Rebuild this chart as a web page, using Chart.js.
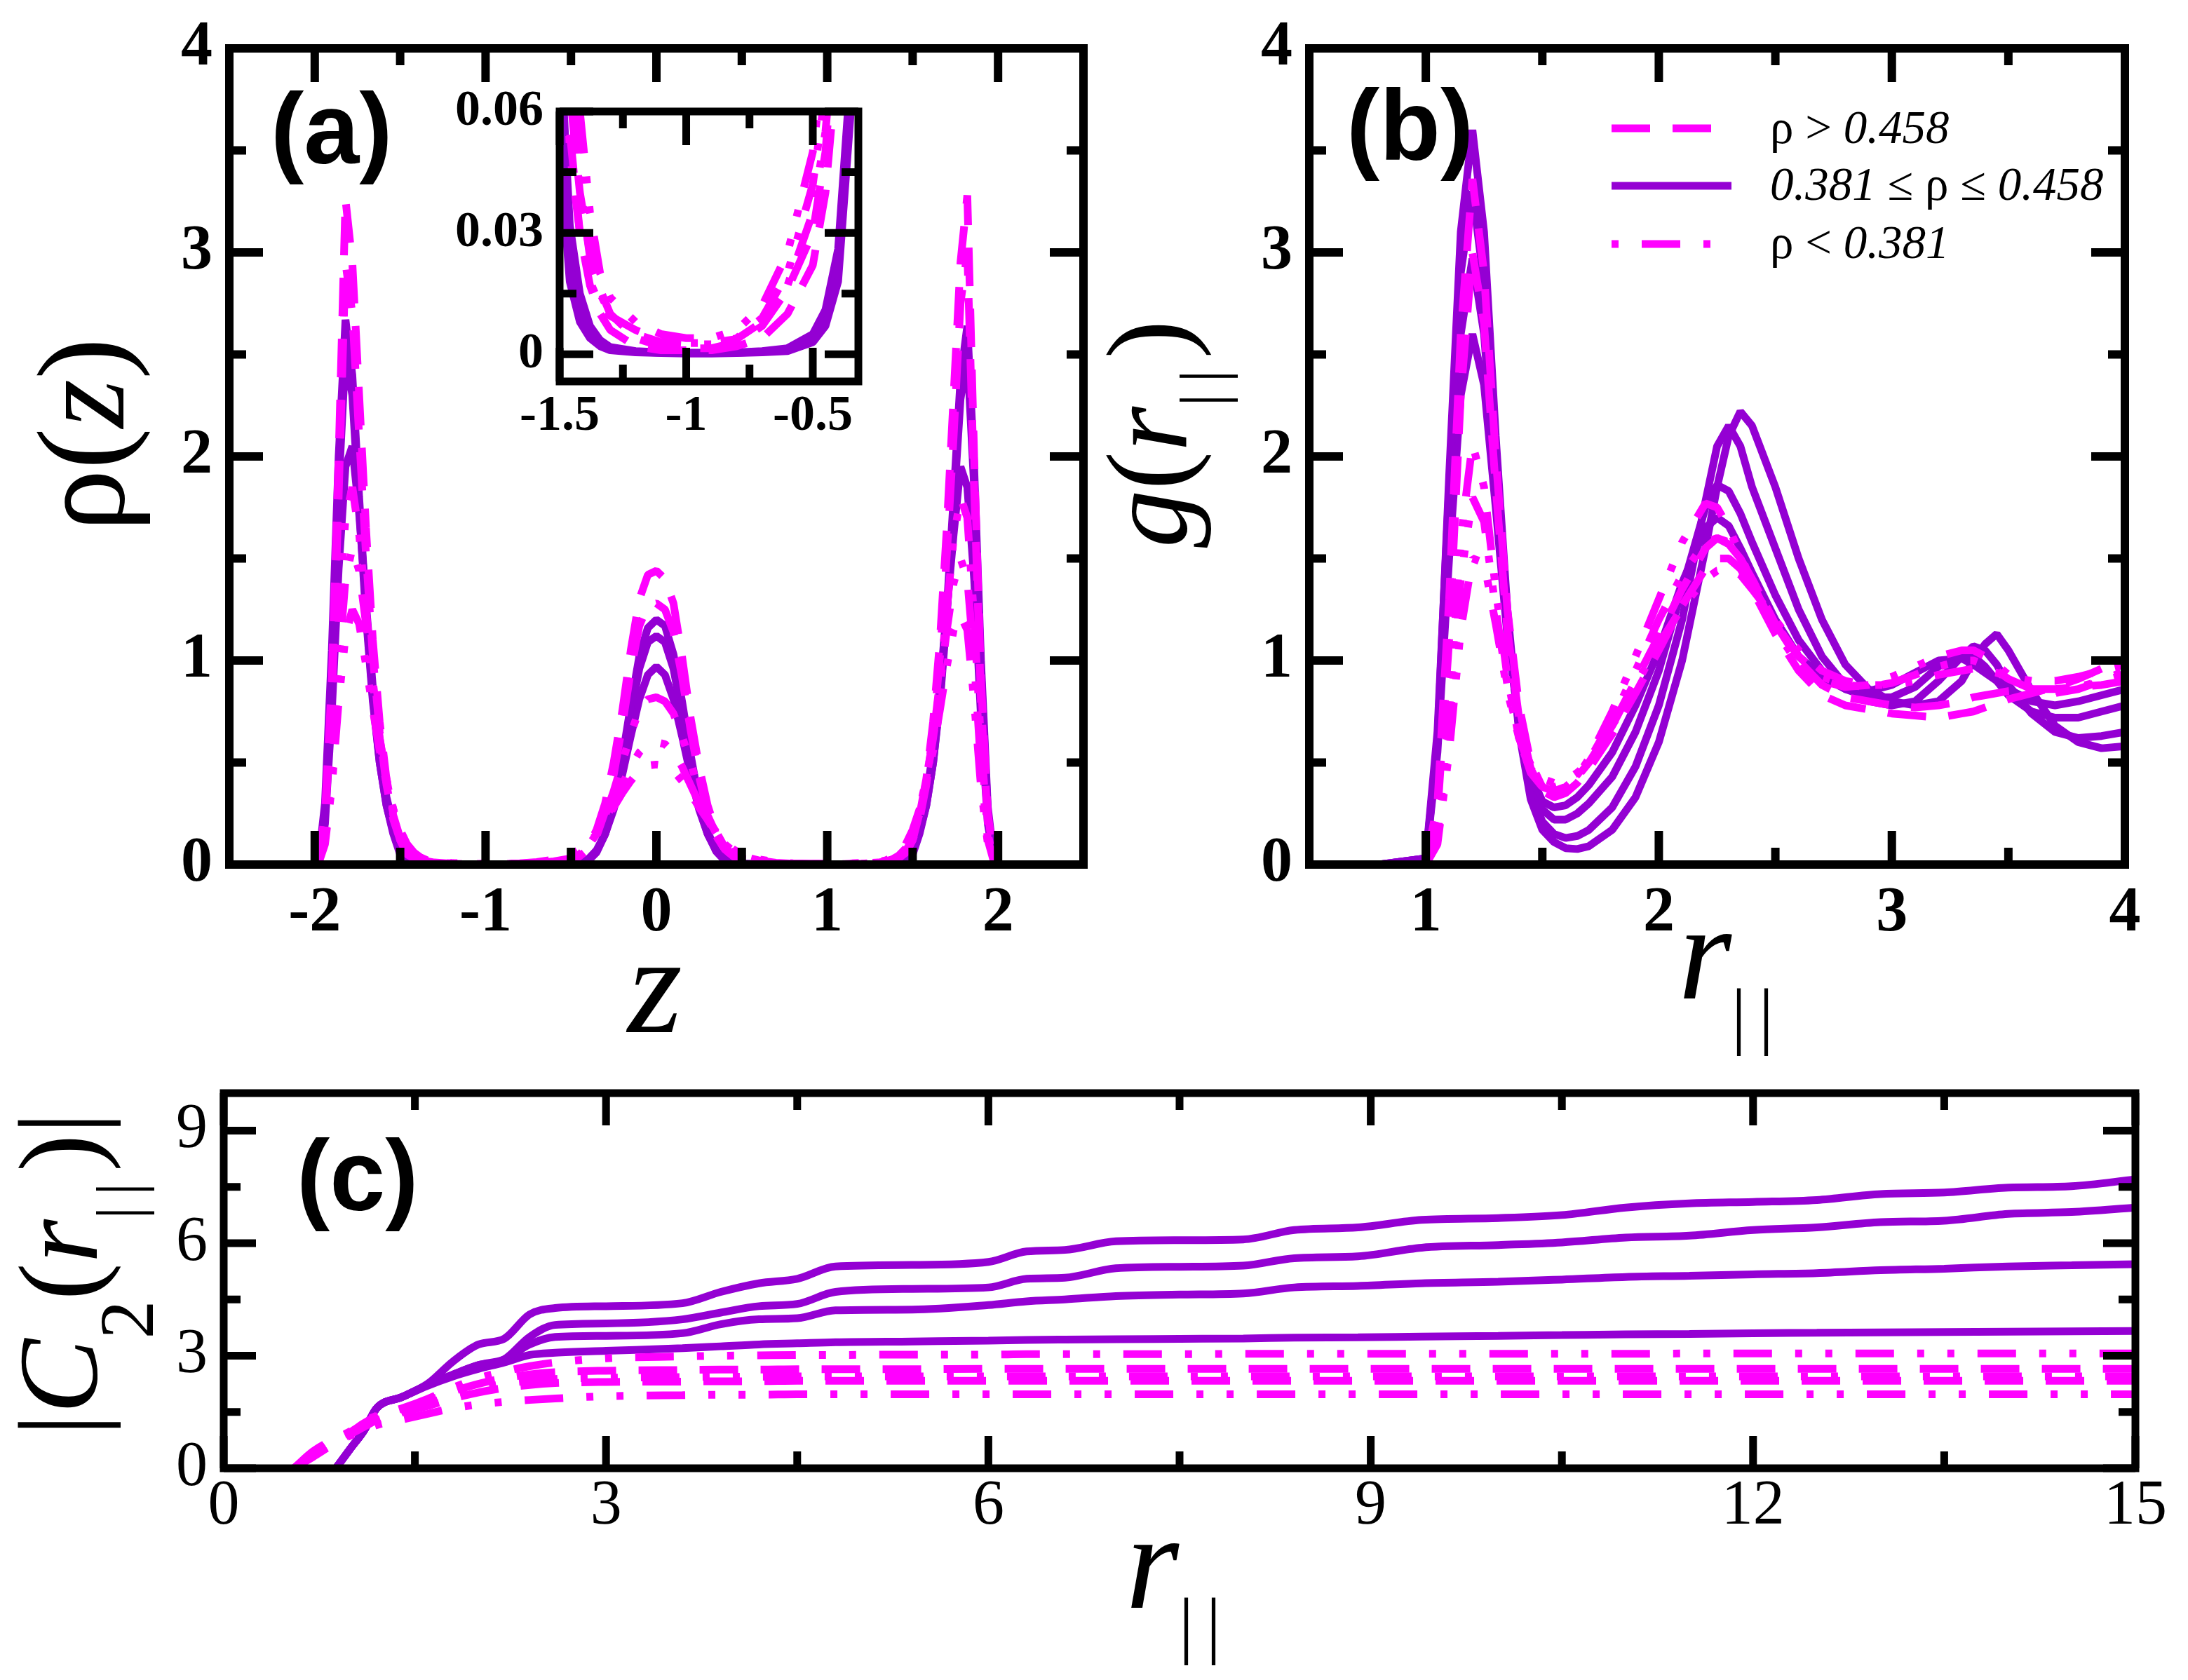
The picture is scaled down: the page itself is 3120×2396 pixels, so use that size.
<!DOCTYPE html>
<html>
<head>
<meta charset="utf-8">
<script src="https://cdn.jsdelivr.net/npm/chart.js@4.4.0/dist/chart.umd.min.js"></script>
<style>
  html, body { margin: 0; padding: 0; background: #fff; }
  body { width: 3120px; height: 2396px; position: relative; overflow: hidden; font-family: "Liberation Serif", serif; }
  canvas { position: absolute; }
  .txt { position: absolute; width: 0; height: 0; transform-origin: 0 0; }
  .txt > span { position: absolute; left: 0; top: 0; white-space: nowrap; line-height: 1; color: #000; }
  .sans { font-family: "Liberation Sans", Arial, sans-serif; font-weight: bold; }
  .sub { position: relative; line-height: 0; font-style: normal; }
  .bars { letter-spacing: 0.17em; }
</style>
</head>
<body>
<canvas id="chartA" width="1620" height="1480" style="left:0;top:0"></canvas>
<canvas id="chartB" width="1500" height="1480" style="left:1620px;top:0"></canvas>
<canvas id="chartInset" width="680" height="560" style="left:600px;top:100px"></canvas>
<canvas id="chartC" width="3120" height="916" style="left:0;top:1480px"></canvas>
<script>
  // Panel (a): density profiles rho(z)
  const zGrid = [
    -1.98, -1.94, -1.90, -1.86, -1.82, -1.78, -1.74, -1.70, -1.66, -1.62, -1.58, -1.54, -1.50, -1.46, -1.42, -1.38, -1.34, -1.30,
    -1.2, -1.1, -1.0, -0.9, -0.8, -0.7, -0.6, -0.5, -0.45, -0.4, -0.35, -0.3, -0.25, -0.2, -0.15, -0.1, -0.05, 0,
    0.05, 0.1, 0.15, 0.2, 0.25, 0.3, 0.35, 0.4, 0.45, 0.5, 0.6, 0.7, 0.8, 0.9, 1.0, 1.1, 1.2,
    1.30, 1.34, 1.38, 1.42, 1.46, 1.50, 1.54, 1.58, 1.62, 1.66, 1.70, 1.74, 1.78, 1.82, 1.86, 1.90, 1.94, 1.98
  ];
  const rhoDashHi = [
    0, 0.25, 0.9, 2.0, 3.26, 2.95, 2.3, 1.65, 1.1, 0.7, 0.42, 0.24, 0.13, 0.065, 0.04, 0.025, 0.016, 0.01,
    0.004, 0.002, 0.0015, 0.0015, 0.003, 0.007, 0.016, 0.03, 0.05, 0.09, 0.17, 0.3, 0.5, 0.75, 1.05, 1.3, 1.42, 1.44,
    1.4, 1.28, 1.02, 0.72, 0.48, 0.29, 0.16, 0.085, 0.048, 0.028, 0.014, 0.006, 0.003, 0.0015, 0.0015, 0.002, 0.004,
    0.01, 0.016, 0.025, 0.04, 0.065, 0.13, 0.24, 0.42, 0.7, 1.1, 1.65, 2.3, 2.95, 3.28, 2.0, 0.9, 0.25, 0
  ];
  const rhoDashLo = [
    0, 0.2, 0.8, 1.8, 2.95, 2.7, 2.1, 1.52, 1.02, 0.65, 0.39, 0.22, 0.12, 0.055, 0.03, 0.017, 0.01, 0.006,
    0.002, 0.001, 0.001, 0.001, 0.002, 0.004, 0.01, 0.022, 0.04, 0.075, 0.14, 0.26, 0.44, 0.68, 0.95, 1.17, 1.27, 1.28,
    1.25, 1.14, 0.92, 0.66, 0.43, 0.25, 0.14, 0.075, 0.04, 0.022, 0.01, 0.004, 0.002, 0.001, 0.001, 0.0015, 0.003,
    0.006, 0.01, 0.018, 0.032, 0.058, 0.12, 0.22, 0.39, 0.65, 1.02, 1.52, 2.1, 2.75, 3.0, 1.85, 0.8, 0.2, 0
  ];
  const rhoSolid1 = [
    0, 0.3, 1.05, 2.0, 2.67, 2.4, 1.8, 1.25, 0.82, 0.5, 0.29, 0.15, 0.05, 0.018, 0.008, 0.004, 0.002, 0.001,
    0.0005, 0.0003, 0.0002, 0.0002, 0.0003, 0.0005, 0.0008, 0.003, 0.007, 0.018, 0.06, 0.15, 0.3, 0.52, 0.78, 1.02, 1.16, 1.2,
    1.17, 1.03, 0.8, 0.54, 0.31, 0.16, 0.065, 0.02, 0.008, 0.003, 0.0008, 0.0005, 0.0003, 0.0002, 0.0002, 0.0003, 0.0005,
    0.001, 0.002, 0.004, 0.008, 0.018, 0.05, 0.15, 0.29, 0.5, 0.82, 1.25, 1.8, 2.38, 2.64, 1.95, 1.0, 0.28, 0
  ];
  const rhoSolid2 = [
    0, 0.25, 0.95, 1.85, 2.5, 2.3, 1.75, 1.22, 0.8, 0.5, 0.29, 0.16, 0.06, 0.022, 0.01, 0.005, 0.0025, 0.0012,
    0.0006, 0.0004, 0.0003, 0.0003, 0.0004, 0.0006, 0.001, 0.004, 0.009, 0.022, 0.065, 0.15, 0.29, 0.5, 0.74, 0.96, 1.09, 1.12,
    1.09, 0.96, 0.74, 0.5, 0.29, 0.15, 0.065, 0.022, 0.009, 0.004, 0.001, 0.0006, 0.0004, 0.0003, 0.0003, 0.0004, 0.0006,
    0.0012, 0.0025, 0.005, 0.01, 0.022, 0.06, 0.16, 0.29, 0.5, 0.8, 1.22, 1.75, 2.28, 2.5, 1.85, 0.95, 0.25, 0
  ];
  const rhoSolid3 = [
    0, 0.2, 0.75, 1.45, 1.95, 2.05, 1.72, 1.28, 0.87, 0.56, 0.33, 0.19, 0.08, 0.032, 0.015, 0.007, 0.0035, 0.0018,
    0.0008, 0.0005, 0.0004, 0.0004, 0.0005, 0.0008, 0.0015, 0.005, 0.011, 0.026, 0.07, 0.15, 0.27, 0.44, 0.63, 0.81, 0.93, 0.97,
    0.93, 0.81, 0.63, 0.44, 0.27, 0.15, 0.07, 0.026, 0.011, 0.005, 0.0015, 0.0008, 0.0005, 0.0004, 0.0004, 0.0005, 0.0008,
    0.0018, 0.0035, 0.007, 0.015, 0.032, 0.08, 0.19, 0.33, 0.56, 0.87, 1.25, 1.62, 1.95, 1.85, 1.4, 0.72, 0.2, 0
  ];
  const rhoDot1 = [
    0, 0.15, 0.6, 1.2, 1.7, 1.85, 1.62, 1.25, 0.9, 0.62, 0.41, 0.25, 0.12, 0.05, 0.03, 0.018, 0.012, 0.0095,
    0.006, 0.0035, 0.0028, 0.0028, 0.0038, 0.008, 0.017, 0.035, 0.055, 0.09, 0.15, 0.24, 0.36, 0.5, 0.64, 0.76, 0.81, 0.82,
    0.8, 0.74, 0.63, 0.5, 0.36, 0.24, 0.15, 0.09, 0.055, 0.035, 0.017, 0.008, 0.004, 0.003, 0.003, 0.004, 0.006,
    0.01, 0.013, 0.02, 0.032, 0.055, 0.12, 0.25, 0.41, 0.62, 0.9, 1.25, 1.6, 1.8, 1.7, 1.2, 0.6, 0.15, 0
  ];
  const rhoDot2 = [
    0, 0.12, 0.48, 0.98, 1.4, 1.55, 1.44, 1.18, 0.88, 0.62, 0.42, 0.27, 0.15, 0.075, 0.042, 0.024, 0.015, 0.01,
    0.005, 0.003, 0.0025, 0.0025, 0.004, 0.009, 0.02, 0.042, 0.065, 0.1, 0.15, 0.22, 0.3, 0.39, 0.48, 0.55, 0.59, 0.6,
    0.59, 0.55, 0.48, 0.39, 0.3, 0.22, 0.15, 0.1, 0.065, 0.042, 0.02, 0.009, 0.004, 0.0025, 0.0025, 0.003, 0.005,
    0.01, 0.015, 0.025, 0.045, 0.08, 0.15, 0.27, 0.42, 0.62, 0.88, 1.15, 1.38, 1.5, 1.4, 1.0, 0.48, 0.12, 0
  ];
  const rhoDot3 = [
    0, 0.1, 0.38, 0.8, 1.12, 1.25, 1.18, 0.98, 0.76, 0.56, 0.4, 0.27, 0.17, 0.1, 0.06, 0.035, 0.02, 0.014,
    0.008, 0.005, 0.004, 0.004, 0.006, 0.012, 0.025, 0.05, 0.075, 0.11, 0.16, 0.22, 0.28, 0.35, 0.41, 0.46, 0.485, 0.49,
    0.485, 0.46, 0.41, 0.35, 0.28, 0.22, 0.16, 0.11, 0.075, 0.05, 0.025, 0.012, 0.006, 0.004, 0.004, 0.005, 0.008,
    0.014, 0.02, 0.035, 0.06, 0.1, 0.17, 0.27, 0.4, 0.56, 0.76, 0.97, 1.15, 1.22, 1.15, 0.8, 0.38, 0.1, 0
  ];

  // Panel (b): pair correlation g(r||)
  const rGrid = [0.5, 0.8, 1.0, 1.05, 1.1, 1.15, 1.2, 1.25, 1.3, 1.35, 1.4, 1.45, 1.5, 1.55, 1.6, 1.65, 1.7,
    1.8, 1.9, 2.0, 2.1, 2.2, 2.25, 2.3, 2.35, 2.4, 2.5, 2.6, 2.7, 2.8, 2.9, 3.0, 3.1, 3.2, 3.3,
    3.35, 3.4, 3.45, 3.5, 3.6, 3.7, 3.8, 3.9, 4.0];
  const gSolid1 = [0, 0, 0.02, 0.6, 1.9, 3.1, 3.6, 3.1, 2.1, 1.25, 0.65, 0.32, 0.17, 0.11, 0.08, 0.076, 0.09,
    0.17, 0.33, 0.6, 1.0, 1.55, 1.85, 2.1, 2.22, 2.15, 1.85, 1.5, 1.2, 0.98, 0.86, 0.8, 0.78, 0.8, 0.9,
    1.0, 1.08, 1.13, 1.05, 0.85, 0.68, 0.6, 0.57, 0.58];
  const gSolid2 = [0, 0, 0.03, 0.65, 1.85, 2.9, 3.3, 2.85, 1.95, 1.2, 0.68, 0.36, 0.21, 0.15, 0.13, 0.14, 0.17,
    0.28, 0.48, 0.78, 1.2, 1.78, 2.05, 2.15, 2.05, 1.85, 1.55, 1.25, 1.02, 0.88, 0.8, 0.78, 0.8, 0.9, 1.02,
    1.07, 1.05, 0.98, 0.88, 0.74, 0.65, 0.62, 0.63, 0.65];
  const gSolid3 = [0, 0, 0.03, 0.6, 1.65, 2.6, 2.97, 2.6, 1.85, 1.15, 0.68, 0.4, 0.27, 0.22, 0.22, 0.25, 0.3,
    0.43, 0.65, 0.95, 1.35, 1.75, 1.86, 1.83, 1.72, 1.58, 1.32, 1.1, 0.95, 0.86, 0.82, 0.82, 0.87, 0.97, 1.03,
    1.02, 0.97, 0.9, 0.83, 0.75, 0.72, 0.72, 0.75, 0.78];
  const gSolid4 = [0, 0, 0.03, 0.55, 1.5, 2.3, 2.6, 2.35, 1.75, 1.12, 0.7, 0.44, 0.31, 0.28, 0.29, 0.33, 0.39,
    0.55, 0.78, 1.05, 1.38, 1.65, 1.7, 1.66, 1.55, 1.43, 1.2, 1.02, 0.92, 0.86, 0.85, 0.88, 0.94, 1.0, 1.01,
    0.98, 0.94, 0.9, 0.86, 0.8, 0.78, 0.8, 0.83, 0.86];
  const gDash1 = [0, 0, 0, 0.3, 1.3, 2.6, 3.36, 2.9, 2.0, 1.25, 0.78, 0.5, 0.38, 0.36, 0.38, 0.43, 0.5,
    0.68, 0.9, 1.12, 1.35, 1.55, 1.6, 1.58, 1.5, 1.4, 1.18, 1.0, 0.88, 0.82, 0.8, 0.78, 0.77, 0.78, 0.8,
    0.82, 0.83, 0.84, 0.85, 0.86, 0.86, 0.87, 0.88, 0.9];
  const gDash2 = [0, 0, 0, 0.25, 1.1, 2.3, 3.0, 2.65, 1.85, 1.15, 0.72, 0.47, 0.36, 0.33, 0.35, 0.4, 0.47,
    0.64, 0.84, 1.05, 1.27, 1.45, 1.5, 1.5, 1.45, 1.35, 1.13, 0.95, 0.83, 0.78, 0.76, 0.74, 0.73, 0.72, 0.74,
    0.75, 0.77, 0.79, 0.81, 0.84, 0.87, 0.91, 0.96, 1.0];
  const gDot1 = [0, 0, 0, 0.15, 0.75, 1.6, 2.06, 1.85, 1.35, 0.92, 0.62, 0.45, 0.38, 0.36, 0.38, 0.43, 0.52,
    0.75, 1.02, 1.3, 1.58, 1.77, 1.75, 1.65, 1.52, 1.38, 1.15, 0.98, 0.9, 0.87, 0.88, 0.92, 0.97, 1.02, 1.05,
    1.05, 1.02, 0.98, 0.93, 0.86, 0.84, 0.86, 0.9, 0.95];
  const gDot2 = [0, 0, 0, 0.1, 0.55, 1.15, 1.5, 1.48, 1.18, 0.85, 0.62, 0.49, 0.42, 0.4, 0.41, 0.45, 0.5,
    0.68, 0.88, 1.08, 1.26, 1.4, 1.44, 1.45, 1.42, 1.35, 1.2, 1.05, 0.95, 0.9, 0.88, 0.88, 0.9, 0.93, 0.95,
    0.96, 0.95, 0.94, 0.92, 0.9, 0.9, 0.92, 0.95, 0.98];
  const gDot3 = [0, 0, 0, 0.12, 0.65, 1.4, 1.8, 1.68, 1.25, 0.88, 0.62, 0.47, 0.4, 0.38, 0.4, 0.44, 0.51,
    0.71, 0.95, 1.2, 1.42, 1.58, 1.6, 1.57, 1.5, 1.4, 1.18, 1.02, 0.92, 0.88, 0.87, 0.89, 0.93, 0.97, 1.0,
    1.0, 0.98, 0.95, 0.91, 0.86, 0.85, 0.87, 0.9, 0.93];

  // Panel (c): |C2(r||)|
  const cGrid = [0.55, 0.7, 0.88, 1.0, 1.1, 1.2, 1.4, 1.6, 1.8, 2.0, 2.2, 2.4, 2.6,
    3.0, 3.6, 3.9, 4.2, 4.5, 4.8, 5.4, 6.0, 6.3, 6.6, 7.0, 7.5, 8.0, 8.4, 8.9, 9.4, 10.0,
    10.5, 11.0, 11.5, 12.0, 12.5, 13.0, 13.5, 14.0, 14.5, 15.0];
  const cSolid1 = [null, null, 0, 0.55, 1.0, 1.6, 1.9, 2.25, 2.85, 3.3, 3.45, 4.1, 4.27,
    4.32, 4.4, 4.7, 4.93, 5.05, 5.38, 5.42, 5.5, 5.78, 5.82, 6.05, 6.08, 6.1, 6.35, 6.42, 6.62, 6.67,
    6.75, 6.95, 7.06, 7.1, 7.15, 7.31, 7.35, 7.48, 7.52, 7.7];
  const cSolid2 = [null, null, 0, 0.55, 1.0, 1.6, 1.9, 2.22, 2.5, 2.75, 2.9, 3.5, 3.82,
    3.86, 3.97, 4.15, 4.32, 4.38, 4.7, 4.78, 4.82, 5.05, 5.08, 5.33, 5.37, 5.4, 5.6, 5.65, 5.88, 5.95,
    6.02, 6.15, 6.2, 6.35, 6.42, 6.56, 6.6, 6.78, 6.83, 6.95];
  const cSolid3 = [null, null, 0, 0.55, 1.0, 1.6, 1.9, 2.22, 2.5, 2.75, 2.9, 3.3, 3.5,
    3.53, 3.6, 3.84, 3.97, 4.0, 4.21, 4.23, 4.35, 4.45, 4.5, 4.59, 4.63, 4.66, 4.82, 4.86, 4.93, 4.97,
    5.03, 5.1, 5.13, 5.17, 5.2, 5.28, 5.32, 5.38, 5.41, 5.44];
  const cSolid4 = [null, null, 0, 0.55, 1.0, 1.6, 1.9, 2.2, 2.45, 2.65, 2.82, 3.02, 3.08,
    3.13, 3.2, 3.25, 3.3, 3.33, 3.36, 3.38, 3.4, 3.42, 3.43, 3.44, 3.45, 3.46, 3.48, 3.49, 3.51, 3.53,
    3.55, 3.57, 3.58, 3.6, 3.61, 3.62, 3.63, 3.64, 3.65, 3.66];
  const cDot1 = [0, 0.45, 0.8, 1.0, 1.25, 1.4, 1.6, 1.85, 2.15, 2.4, 2.58, 2.72, 2.82,
    2.93, 2.98, 3.0, 3.01, 3.02, 3.02, 3.03, 3.03, 3.04, 3.04, 3.04, 3.04, 3.05, 3.05, 3.05, 3.05, 3.05,
    3.05, 3.05, 3.06, 3.06, 3.06, 3.06, 3.06, 3.06, 3.06, 3.06];
  const cDash1 = [0, 0.4, 0.78, 0.98, 1.2, 1.38, 1.58, 1.8, 2.05, 2.25, 2.4, 2.5, 2.56,
    2.6, 2.62, 2.63, 2.63, 2.64, 2.64, 2.64, 2.65, 2.65, 2.65, 2.65, 2.65, 2.65, 2.65, 2.65, 2.65, 2.65,
    2.65, 2.65, 2.65, 2.65, 2.65, 2.65, 2.65, 2.65, 2.65, 2.65];
  const cDot2 = [0, 0.35, 0.75, 0.95, 1.15, 1.32, 1.52, 1.72, 1.95, 2.12, 2.25, 2.33, 2.38,
    2.41, 2.43, 2.44, 2.44, 2.45, 2.45, 2.45, 2.45, 2.45, 2.45, 2.45, 2.45, 2.45, 2.45, 2.45, 2.45, 2.45,
    2.45, 2.45, 2.45, 2.45, 2.45, 2.45, 2.45, 2.45, 2.45, 2.45];
  const cDash2 = [0, 0.35, 0.72, 0.92, 1.1, 1.28, 1.48, 1.66, 1.86, 2.02, 2.14, 2.22, 2.27,
    2.3, 2.31, 2.32, 2.32, 2.33, 2.33, 2.33, 2.33, 2.33, 2.33, 2.33, 2.33, 2.33, 2.33, 2.33, 2.33, 2.33,
    2.33, 2.33, 2.33, 2.33, 2.33, 2.33, 2.33, 2.33, 2.33, 2.33];
  const cDot3 = [0, 0.3, 0.68, 0.88, 1.02, 1.15, 1.3, 1.45, 1.6, 1.7, 1.77, 1.82, 1.86,
    1.92, 1.95, 1.96, 1.96, 1.97, 1.97, 1.97, 1.97, 1.97, 1.97, 1.97, 1.97, 1.97, 1.97, 1.97, 1.97, 1.97,
    1.97, 1.97, 1.97, 1.97, 1.97, 1.97, 1.97, 1.97, 1.97, 1.97];

  // Tick values
  const aXLabels = [-2, -1, 0, 1, 2];
  const aXMinor = [-1.5, -0.5, 0.5, 1.5];
  const yLabels04 = [0, 1, 2, 3, 4];
  const yMinor04 = [0.5, 1.5, 2.5, 3.5];
  const bXLabels = [1, 2, 3, 4];
  const bXMinor = [1.5, 2.5, 3.5];
  const insetXLabels = [-1.5, -1, -0.5];
  const insetXMinor = [-1.25, -0.75];
  const insetYLabels = [0, 0.03, 0.06];
  const insetYMinor = [0.015, 0.045];
  const cXLabels = [0, 3, 6, 9, 12, 15];
  const cXMinor = [1.5, 4.5, 7.5, 10.5, 13.5];
  const cYLabels = [0, 3, 6, 9];
  const cYMinor = [1.5, 4.5, 7.5];

  const MAGENTA = '#ff00ff';
  const PURPLE = '#9400d3';
  const DASH = [55, 32];
  const DASHDOT = [55, 33, 10, 33, 10, 33];

  Chart.defaults.font.family = '"Liberation Serif", serif';
  Chart.defaults.color = '#000';

  function series(xs, ys, kind, smooth) {
    const look = kind === 'solid' ? { borderColor: PURPLE, borderDash: [] }
      : kind === 'dash' ? { borderColor: MAGENTA, borderDash: DASH }
      : { borderColor: MAGENTA, borderDash: DASHDOT };
    return Object.assign({
      data: xs.map((x, i) => ({ x: x, y: ys[i] })),
      borderWidth: 11,
      borderJoinStyle: 'bevel',
      pointRadius: 0,
      fill: false,
      tension: 0,
      cubicInterpolationMode: smooth ? 'monotone' : 'default'
    }, look);
  }

  // frame + inward ticks on all four sides
  const framePlugin = {
    id: 'frame',
    beforeDatasetsDraw(chart, args, o) {
      if (!o.fill) return;
      const a = chart.chartArea, ctx = chart.ctx;
      ctx.save();
      ctx.fillStyle = o.fill;
      ctx.fillRect(a.left, a.top, a.right - a.left, a.bottom - a.top);
      ctx.restore();
    },
    afterDatasetsDraw(chart, args, o) {
      const ctx = chart.ctx, a = chart.chartArea;
      const sx = chart.scales.x, sy = chart.scales.y;
      ctx.save();
      ctx.strokeStyle = '#000';
      ctx.lineWidth = o.tickWidth;
      ctx.beginPath();
      const xTicks = (vals, len) => vals.forEach(v => {
        const p = sx.getPixelForValue(v);
        ctx.moveTo(p, a.bottom); ctx.lineTo(p, a.bottom - len);
        ctx.moveTo(p, a.top); ctx.lineTo(p, a.top + len);
      });
      const yTicks = (vals, len) => vals.forEach(v => {
        const p = sy.getPixelForValue(v);
        ctx.moveTo(a.left, p); ctx.lineTo(a.left + len, p);
        ctx.moveTo(a.right, p); ctx.lineTo(a.right - len, p);
      });
      xTicks(o.xMajor, o.major); xTicks(o.xMinor, o.minor);
      yTicks(o.yMajor, o.major); yTicks(o.yMinor, o.minor);
      ctx.stroke();
      ctx.lineWidth = o.frameWidth;
      ctx.strokeRect(a.left, a.top, a.right - a.left, a.bottom - a.top);
      ctx.restore();
    }
  };

  // legend sample lines for panel (b)
  const keyPlugin = {
    id: 'key',
    afterDraw(chart, args, o) {
      const ctx = chart.ctx;
      o.items.forEach(it => {
        ctx.save();
        ctx.strokeStyle = it.color;
        ctx.lineWidth = 11;
        ctx.setLineDash(it.dash);
        ctx.lineDashOffset = it.offset || 0;
        ctx.beginPath();
        ctx.moveTo(it.x0, it.y);
        ctx.lineTo(it.x1, it.y);
        ctx.stroke();
        ctx.restore();
      });
    }
  };

  function axis(min, max, labels, font, pad, fit, isX) {
    return {
      type: 'linear',
      min: min, max: max,
      bounds: 'data',
      grid: { display: false, drawTicks: false },
      border: { display: false },
      ticks: {
        font: font, padding: pad, autoSkip: false, maxRotation: 0, minRotation: 0,
        callback: v => String(v)
      },
      afterBuildTicks: s => { s.ticks = labels.map(v => ({ value: v })); },
      afterFit: s => { if (isX) s.height = fit; else s.width = fit; }
    };
  }

  function makeChart(id, datasets, pad, xAxis, yAxis, frame, extra) {
    const plugins = [framePlugin];
    const pluginOpts = { legend: { display: false }, tooltip: { enabled: false }, frame: frame };
    if (extra) { plugins.push(keyPlugin); pluginOpts.key = extra; }
    return new Chart(document.getElementById(id), {
      type: 'line',
      data: { datasets: datasets },
      options: {
        responsive: false,
        animation: false,
        events: [],
        layout: { padding: pad },
        scales: { x: xAxis, y: yAxis },
        plugins: pluginOpts
      },
      plugins: plugins
    });
  }

  const boldTick = { size: 90, weight: 'bold', lineHeight: 1 };
  const plainTick = { size: 90, weight: 'normal', lineHeight: 1 };
  const insetTick = { size: 72, weight: 'bold', lineHeight: 1 };

  function rhoSets() {
    return [
      series(zGrid, rhoDashHi, 'dash'),
      series(zGrid, rhoDashLo, 'dash'),
      series(zGrid, rhoDot1, 'dot'),
      series(zGrid, rhoDot2, 'dot'),
      series(zGrid, rhoDot3, 'dot'),
      series(zGrid, rhoSolid1, 'solid'),
      series(zGrid, rhoSolid2, 'solid'),
      series(zGrid, rhoSolid3, 'solid')
    ];
  }

  // (a) area 327..1545 x 47..1233
  makeChart('chartA', rhoSets(),
    { left: 167, top: 47, right: 75, bottom: 107 },
    axis(-2.5, 2.5, aXLabels, boldTick, 26, 140, true),
    axis(0, 4, yLabels04, boldTick, 24, 160, false),
    { xMajor: aXLabels, xMinor: aXMinor, yMajor: yLabels04, yMinor: yMinor04, major: 48, minor: 24, tickWidth: 12, frameWidth: 12 });

  // inset area 798..1224 x 154..544
  makeChart('chartInset', rhoSets(),
    { left: 48, top: 54, right: 56, bottom: 16 },
    axis(-1.5, -0.32, insetXLabels, insetTick, 14, 100, true),
    axis(-0.0067, 0.06, insetYLabels, insetTick, 23, 150, false),
    { xMajor: insetXLabels, xMinor: insetXMinor, yMajor: insetYLabels, yMinor: insetYMinor, major: 48, minor: 24, tickWidth: 11, frameWidth: 11, fill: '#fff' });

  // (b) area 1867..3030 x 47..1233
  makeChart('chartB', [
      series(rGrid, gDash1, 'dash'),
      series(rGrid, gDash2, 'dash'),
      series(rGrid, gDot1, 'dot'),
      series(rGrid, gDot2, 'dot'),
      series(rGrid, gDot3, 'dot'),
      series(rGrid, gSolid1, 'solid'),
      series(rGrid, gSolid2, 'solid'),
      series(rGrid, gSolid3, 'solid'),
      series(rGrid, gSolid4, 'solid')
    ],
    { left: 87, top: 47, right: 90, bottom: 107 },
    axis(0.5, 4, bXLabels, boldTick, 26, 140, true),
    axis(0, 4, yLabels04, boldTick, 24, 160, false),
    { xMajor: bXLabels, xMinor: bXMinor, yMajor: yLabels04, yMinor: yMinor04, major: 48, minor: 24, tickWidth: 12, frameWidth: 12 },
    { items: [
      { color: MAGENTA, dash: DASH, x0: 678, x1: 822, y: 183 },
      { color: PURPLE, dash: [], x0: 678, x1: 849, y: 265 },
      { color: MAGENTA, dash: DASHDOT, offset: 131, x0: 678, x1: 822, y: 348 }
    ] });

  // (c) area 319..3045 x 1559..2094
  makeChart('chartC', [
      series(cGrid, cDot1, 'dot', true),
      series(cGrid, cDash1, 'dash', true),
      series(cGrid, cDot2, 'dot', true),
      series(cGrid, cDash2, 'dash', true),
      series(cGrid, cDot3, 'dot', true),
      series(cGrid, cSolid1, 'solid', true),
      series(cGrid, cSolid2, 'solid', true),
      series(cGrid, cSolid3, 'solid', true),
      series(cGrid, cSolid4, 'solid', true)
    ],
    { left: 159, top: 79, right: 75, bottom: 182 },
    axis(0, 15, cXLabels, plainTick, 10, 120, true),
    axis(0, 10, cYLabels, plainTick, 23, 160, false),
    { xMajor: cXLabels, xMinor: cXMinor, yMajor: cYLabels, yMinor: cYMinor, major: 46, minor: 24, tickWidth: 11, frameWidth: 11 });

  // text labels: (x, y) is the baseline point; align 'center' or 'left'
  function addText(html, x, y, size, opts) {
    const o = opts || {};
    const d = document.createElement('div');
    d.className = 'txt';
    d.style.left = x + 'px';
    d.style.top = y + 'px';
    if (o.rot) d.style.transform = 'rotate(' + o.rot + 'deg)';
    const s = document.createElement('span');
    s.innerHTML = html;
    s.style.fontSize = size + 'px';
    if (o.cls) s.className = o.cls;
    s.style.transform = 'translate(' + (o.align === 'left' ? '0' : '-50%') + ', -0.84em)';
    d.appendChild(s);
    document.body.appendChild(d);
  }

  const bars = (size, drop) => '<span class="sub bars" style="font-size:' + size + 'px;top:' + drop + 'px">||</span>';

  addText('(a)', 386, 232, 142, { align: 'left', cls: 'sans' });
  addText('(b)', 1920, 227, 142, { align: 'left', cls: 'sans' });
  addText('(c)', 423, 1725, 142, { align: 'left', cls: 'sans' });

  addText('ρ(<i>z</i>)', 177, 620, 178, { rot: -90 });
  addText('<i>z</i>', 934, 1473, 200);

  addText('<i>g</i>(<i>r</i>' + bars(92, 54) + ')', 1693, 619, 165, { rot: -90 });
  addText('<i>r</i>' + bars(105, 59), 2470, 1425, 195);

  addText('|<i>C</i><span class="sub" style="font-size:110px;top:80px">2</span>(<i>r</i>' + bars(92, 63) + ')|', 138, 1817, 160, { rot: -90 });
  addText('<i>r</i>' + bars(105, 59), 1682, 2294, 195);

  addText('ρ &gt; <i>0.458</i>', 2524, 204, 67, { align: 'left' });
  addText('<i>0.381</i> ≤ ρ ≤ <i>0.458</i>', 2524, 285, 67, { align: 'left' });
  addText('ρ &lt; <i>0.381</i>', 2524, 368, 67, { align: 'left' });
</script>
</body>
</html>
